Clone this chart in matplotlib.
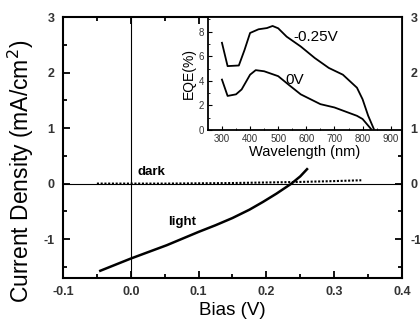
import numpy as np
import matplotlib.pyplot as plt
from matplotlib.ticker import MultipleLocator

plt.rcParams['font.family'] = ['Liberation Sans', 'DejaVu Sans']
plt.rcParams['axes.unicode_minus'] = False

# J-V data (main plot)
bias_dark = [-0.05, 0.0, 0.05, 0.1, 0.15, 0.2, 0.25, 0.3, 0.34]
j_dark = [0.0, 0.0, 0.0, 0.005, 0.01, 0.02, 0.03, 0.045, 0.06]
bias_light = [-0.045, 0.0, 0.053, 0.1, 0.125, 0.15, 0.175, 0.195, 0.215, 0.237, 0.25, 0.26]
j_light = [-1.57, -1.35, -1.11, -0.87, -0.75, -0.62, -0.47, -0.33, -0.18, 0.0, 0.13, 0.26]

# EQE data (inset)
wl_m025 = [300, 320, 360, 380, 400, 430, 460, 480, 500, 530, 580, 630, 680, 730, 780, 800, 820, 840]
eqe_m025 = [7.1, 5.2, 5.25, 6.5, 7.9, 8.2, 8.3, 8.47, 8.28, 7.6, 6.8, 5.86, 5.05, 4.5, 3.44, 2.5, 1.15, 0.08]
wl_0 = [300, 320, 350, 370, 400, 420, 450, 500, 540, 580, 650, 700, 780, 800, 830]
eqe_0 = [4.1, 2.77, 2.9, 3.3, 4.5, 4.87, 4.78, 4.38, 3.63, 2.9, 2.1, 1.83, 1.15, 0.89, 0.08]

fig = plt.figure(figsize=(4.2, 3.24), dpi=100)
ax = fig.add_axes([0.15, 0.142, 0.807, 0.8055])

ax.axhline(0, color='black', lw=0.8)
ax.axvline(0, color='black', lw=0.8)
ax.plot(bias_dark, j_dark, color='black', lw=1.5, ls=(0, (1, 0.8)))
ax.plot(bias_light, j_light, color='black', lw=1.8)
ax.text(0.031, 0.2, 'dark', fontsize=9.5, fontweight='bold', ha='center', va='center')
ax.text(0.075, -0.69, 'light', fontsize=9.5, fontweight='bold', ha='center', va='center')

ax.set_xlim(-0.1, 0.4)
ax.set_ylim(-1.7, 3)
ax.xaxis.set_major_locator(MultipleLocator(0.1))
ax.xaxis.set_minor_locator(MultipleLocator(0.05))
ax.yaxis.set_major_locator(MultipleLocator(1))
ax.yaxis.set_minor_locator(MultipleLocator(0.5))
ax.xaxis.set_major_formatter(plt.FormatStrFormatter('%.1f'))
ax.tick_params(which='both', direction='in', top=True, right=True, labelright=True,
               labelsize=9, labelcolor='#333333', width=1.3)
ax.tick_params(which='major', length=5, pad=6)
ax.tick_params(which='minor', length=3)
for t in ax.xaxis.get_major_ticks() + ax.yaxis.get_major_ticks():
    t.label1.set_fontweight('bold')
    t.label2.set_fontweight('bold')
for s in ax.spines.values():
    s.set_linewidth(1.5)
ax.set_xlabel('Bias (V)', fontsize=13.5, labelpad=3)
ax.set_ylabel('Current Density (mA/cm$^2$)', fontsize=16.5)
ax.yaxis.set_label_coords(-0.08, 0.41)

# inset
ins = fig.add_axes([0.495, 0.599, 0.462, 0.3485])
ins.plot(wl_m025, eqe_m025, color='black', lw=1.3)
ins.plot(wl_0, eqe_0, color='black', lw=1.3)
ins.text(555, 7.6, '-0.25V', fontsize=11, va='center')
ins.text(525, 4.1, '0V', fontsize=11, va='center')
ins.set_xlim(250, 940)
ins.set_ylim(0, 9.2)
ins.xaxis.set_major_locator(MultipleLocator(100))
ins.xaxis.set_minor_locator(MultipleLocator(50))
ins.yaxis.set_major_locator(MultipleLocator(2))
ins.yaxis.set_minor_locator(MultipleLocator(1))
ins.tick_params(which='both', direction='in', labelsize=7, labelcolor='#333333', pad=3)
ins.tick_params(which='major', length=3)
ins.tick_params(which='minor', length=1.5)
for s in ins.spines.values():
    s.set_linewidth(1.3)
ins.set_xlabel('Wavelength (nm)', fontsize=10.5, labelpad=1)
ins.set_ylabel('EQE(%)', fontsize=10, labelpad=2)

fig.savefig('out.png', dpi=100)
